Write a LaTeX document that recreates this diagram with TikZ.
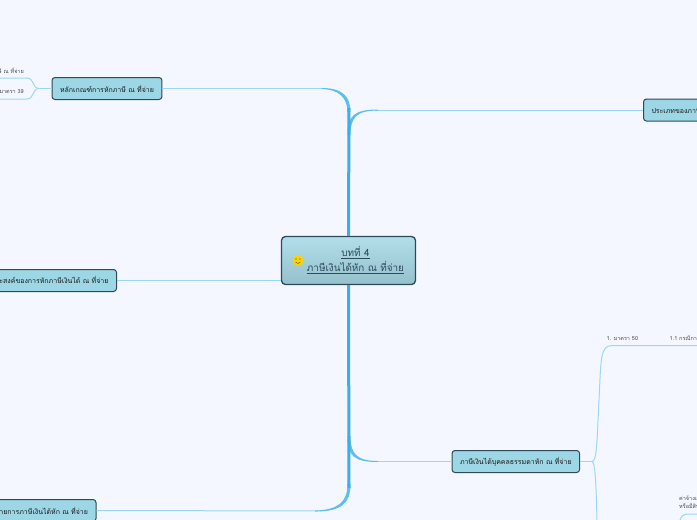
\documentclass[tikz,border=0pt]{standalone}
\usepackage{fontspec}
\setmainfont[Script=Thai]{Loma}
\definecolor{pagebg}{HTML}{F4F7FF}
\definecolor{boxfill}{HTML}{9DD6E4}
\definecolor{boxline}{HTML}{2C4A5C}
\definecolor{trunkblue}{HTML}{3BAEE6}
\definecolor{midblue}{HTML}{5FBFEC}
\definecolor{lightblue}{HTML}{9AD8F5}
\tikzset{
  topicbox/.style={draw=boxline,line width=1pt,fill=boxfill,rounded corners=3pt,minimum height=22pt,inner xsep=8pt,inner ysep=0pt,font=\fontsize{7}{9}\selectfont,text=black!90},
  leaftext/.style={inner sep=0pt,font=\fontsize{5.5}{8.5}\selectfont,text=black!70},
  branch/.style={draw=lightblue,line width=1pt},
  corner/.style={fill=midblue},
  trunk/.style={draw=trunkblue,line width=3pt}
}
\begin{document}
\begin{tikzpicture}[x=1pt,y=-1pt]
  \useasboundingbox (0,0) rectangle (697,520);
  \clip (0,0) rectangle (697,520);
  \fill[pagebg] (0,0) rectangle (697,520);
  % Central topic
  \node[draw=boxline,line width=1.3pt,rounded corners=4pt,top color=boxfill!80!white,bottom color=boxfill!75!gray,minimum width=134pt,minimum height=48pt,inner sep=0pt] (root) at (348.5,260.5) {};
  \node[align=center,inner sep=0pt,text=boxline,font=\fontsize{9.9}{15.5}\selectfont] (rootlabel) at (355.5,260) {\underline{บทที่ 4}\\\underline{ภาษีเงินได้หัก ณ ที่จ่าย}};
  % Smiley
  \node[circle,fill=yellow!70!orange,minimum size=11pt,inner sep=0pt] (smiley) at (298,260.5) {};
  \fill[black!70] (296,259) circle (0.7pt) (300,259) circle (0.7pt);
  \draw[black!70,line width=0.4pt] (295.5,262) .. controls (297,264) and (299,264) .. (300.5,262);
  % Topic boxes
  \node[topicbox,anchor=west] (criteria) at (51.5,88.5) {หลักเกณฑ์การหักภาษี ณ ที่จ่าย};
  \node[topicbox,anchor=east] (purpose) at (117,280.5) {วัตถุประสงค์ของการหักภาษีเงินได้ ณ ที่จ่าย};
  \node[topicbox,anchor=east] (meaning) at (96.5,510.5) {ความหมายการภาษีเงินได้หัก ณ ที่จ่าย};
  \node[topicbox,anchor=west] (types) at (643,110) {ประเภทของภาษีเงินได้หัก ณ ที่จ่าย};
  \node[topicbox,anchor=west,minimum width=127pt] (natural) at (451.5,461.5) {ภาษีเงินได้บุคคลธรรมดาหัก ณ ที่จ่าย};
  % Junctions and free ends
  \coordinate (critjoin) at (38,88.5);
  \coordinate (critup) at (0,78);
  \coordinate (critdown) at (0,99);
  \coordinate (natjoin) at (592,461.5);
  \coordinate (natup) at (697,345.5);
  \coordinate (natdown) at (597,520);
  \coordinate (wageend) at (697,514);
  \coordinate (wagestart) at (680,520);
  % Thin ends of the main branches
  \draw[branch] (criteria.east) -- (325,88.5);
  \draw[branch] (types.west) -- (375,110);
  \draw[branch] (natural.west) -- (375,461.5);
  \draw[branch] (meaning.east) -- (318,511);
  \draw[branch] (purpose.east) -- (root.west |- purpose.east);
  % Corners that taper from the trunk
  \fill[corner] (350.5,112) .. controls (350.5,97) and (343,88) .. (322,88) -- (322,89) .. controls (339,89.5) and (347.5,98) .. (347.5,112) -- cycle;
  \fill[corner] (350.5,135) .. controls (350.5,118) and (356,110.5) .. (378,110.5) -- (378,109.5) .. controls (354,109.5) and (347.5,116) .. (347.5,135) -- cycle;
  \fill[corner] (350.5,436) .. controls (350.5,453) and (356,461) .. (378,461) -- (378,462) .. controls (354,462) and (347.5,456) .. (347.5,436) -- cycle;
  \fill[corner] (350.5,484) .. controls (350.5,503) and (342,511.5) .. (315,511.5) -- (315,510.5) .. controls (338,510) and (347.5,502) .. (347.5,484) -- cycle;
  % Trunk
  \draw[trunk] (root.north) -- (349,108);
  \draw[trunk] (root.south) -- (349,488);
  % Second level
  \draw[branch] (criteria.west) -- (critjoin);
  \draw[branch] (critjoin) .. controls (33,88.5) and (34,78) .. (27,78) -- (critup);
  \draw[branch] (critjoin) .. controls (33,88.5) and (34,99) .. (27,99) -- (critdown);
  \draw[branch] (natural.east) -- (natjoin);
  \draw[branch] (natjoin) .. controls (597,461.5) and (597,440) .. (599,400) .. controls (601,360) and (600,345.5) .. (612,345.5) -- (natup);
  \draw[branch] (natjoin) .. controls (595,461.5) and (596,480) .. (natdown);
  \draw[branch] (wagestart) .. controls (681,516) and (684,514) .. (688,514) -- (wageend);
  % Small labels
  \node[leaftext,anchor=east] (critlabel) at (24,70.5) {ภาษี ณ ที่จ่าย};
  \node[leaftext,anchor=east] (lawlabel) at (24,92) {มาตรา 39};
  \node[leaftext,anchor=west] (fiftylabel) at (606.5,338.5) {1. มาตรา 50};
  \node[leaftext,anchor=west] (caselabel) at (669.5,338.5) {1.1 กรณีการจ่าย};
  \node[leaftext,anchor=north west,align=left] (wagelabel) at (679,495.5) {ค่าจ้างแรงงาน\\หรือมีสิทธิ};
\end{tikzpicture}
\end{document}
